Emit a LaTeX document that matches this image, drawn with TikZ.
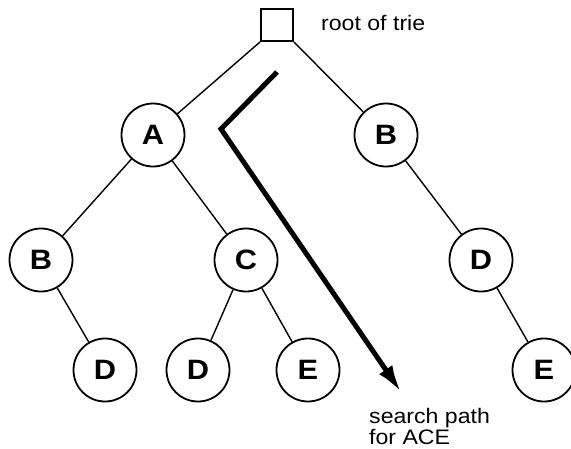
\documentclass[tikz,border=0pt]{standalone}
\usepackage{fontspec}
\setmainfont[FakeStretch=1.1]{Liberation Sans}
\usetikzlibrary{arrows.meta}

\begin{document}
\begin{tikzpicture}[x=1pt, y=-1pt,
		trienode/.style={draw, circle, line width=1.8pt, minimum size=63pt, inner sep=0pt, font=\bfseries\fontsize{28}{28}\selectfont},
		rootbox/.style={draw, rectangle, line width=1.8pt, minimum size=32pt, inner sep=0pt},
		branch/.style={line width=1.4pt},
		notetext/.style={font=\fontsize{21}{21}\selectfont, inner sep=0pt}]
		\useasboundingbox (0,0) rectangle (571,448);

		%root
		\node[rootbox] (root) at (277,25) {};
		\node[notetext, anchor=base west] (rootlabel) at (321,30) {root of trie};

		%level 1
		\node[trienode] (A) at (153,135) {A};
		\node[trienode] (B1) at (386,135) {B};
		%level 2
		\node[trienode] (B2) at (41,260) {B};
		\node[trienode] (C) at (246,260) {C};
		\node[trienode] (D1) at (481,260) {D};
		%level 3
		\node[trienode] (D2) at (105,370) {D};
		\node[trienode] (D3) at (198,370) {D};
		\node[trienode] (E1) at (308,370) {E};
		\node[trienode] (E2) at (544,370) {E};

		\draw[branch] (root.south west) -- (A);
		\draw[branch] (root.south east) -- (B1);
		\draw[branch] (A) -- (B2);
		\draw[branch] (A) -- (C);
		\draw[branch] (B1) -- (D1);
		\draw[branch] (B2) -- (D2);
		\draw[branch] (C) -- (D3);
		\draw[branch] (C) -- (E1);
		\draw[branch] (D1) -- (E2);

		%search path A -> C -> E
		\coordinate (pathstart) at (277,72);
		\coordinate (pathturn) at (221,129);
		\coordinate (pathend) at (401,392);
		\draw[line width=5pt, -{Latex[length=27pt, width=16pt]}] (pathstart) -- (pathturn) -- (pathend);
		\node[notetext, anchor=base west, align=left] (pathlabel) at (369,444) {search path\\for ACE};
	\end{tikzpicture}
\end{document}
